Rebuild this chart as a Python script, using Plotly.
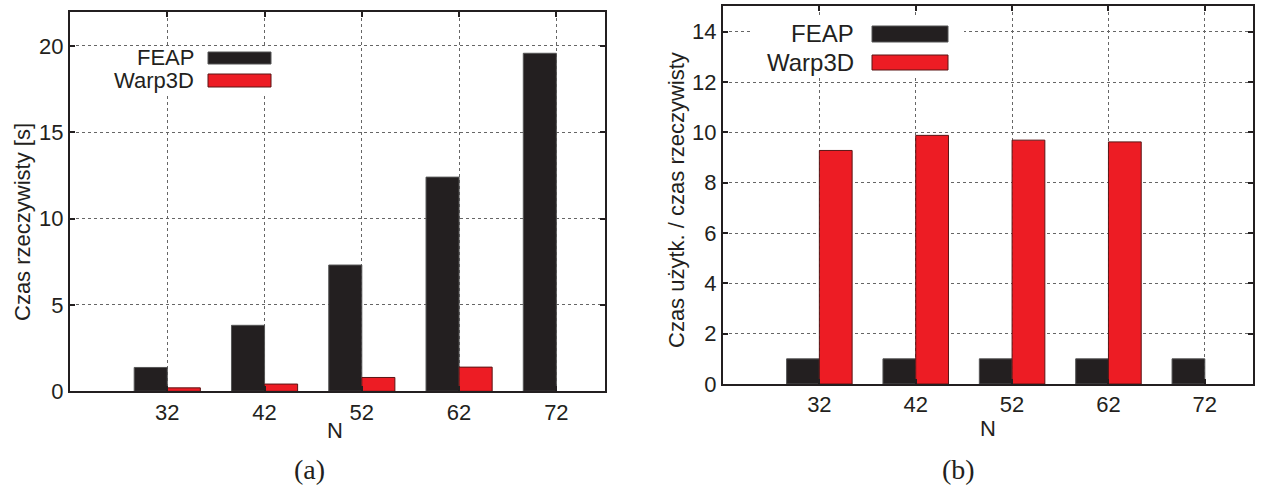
import plotly.graph_objects as go

# ---- data ----
N_values = [32, 42, 52, 62, 72]
feap_time = [1.38, 3.82, 7.31, 12.4, 19.57]
warp_time = [0.20, 0.42, 0.80, 1.40, None]
feap_ratio = [1.0, 1.0, 1.0, 1.0, 1.0]
warp_ratio = [9.28, 9.88, 9.69, 9.62, None]
series_names = ["FEAP", "Warp3D"]

W, H = 1261, 487
BLACK = "#231f20"
RED = "#ed1c24"
FONT = "Liberation Sans, Arial, sans-serif"
BW = 3.4


def px(x):
    return x / W


def py(y):
    return 1 - y / H


fig = go.Figure()

# left panel bars
fig.add_trace(go.Bar(x=N_values, y=feap_time, width=BW, offset=-BW, name=series_names[0],
                     marker=dict(color=BLACK, line=dict(color="#555", width=1)),
                     xaxis="x", yaxis="y", showlegend=False))
fig.add_trace(go.Bar(x=N_values, y=warp_time, width=BW, offset=0, name=series_names[1],
                     marker=dict(color=RED, line=dict(color="#5a1515", width=1)),
                     xaxis="x", yaxis="y", showlegend=False))
# right panel bars
fig.add_trace(go.Bar(x=N_values, y=feap_ratio, width=BW, offset=-BW, name=series_names[0],
                     marker=dict(color=BLACK, line=dict(color="#555", width=1)),
                     xaxis="x2", yaxis="y2", showlegend=False))
fig.add_trace(go.Bar(x=N_values, y=warp_ratio, width=BW, offset=0, name=series_names[1],
                     marker=dict(color=RED, line=dict(color="#5a1515", width=1)),
                     xaxis="x2", yaxis="y2", showlegend=False))

axis_common = dict(showline=True, linecolor=BLACK, linewidth=2, mirror="ticks",
                   ticks="inside", ticklen=5, tickwidth=2, tickcolor=BLACK,
                   showgrid=True, gridcolor="#666", griddash="dot", gridwidth=1,
                   zeroline=False, automargin=False,
                   tickfont=dict(family=FONT, size=22, color=BLACK))

fig.update_layout(
    width=W, height=H,
    margin=dict(l=0, r=0, t=0, b=0),
    paper_bgcolor="white", plot_bgcolor="white",
    barmode="overlay",
    xaxis=dict(domain=[px(70), px(605)], range=[22, 77], tickvals=N_values,
               ticktext=[str(v) for v in N_values], anchor="y", **axis_common),
    yaxis=dict(domain=[py(391.3), py(12)], range=[0, 21.96], tickvals=[0, 5, 10, 15, 20],
               anchor="x", **axis_common),
    xaxis2=dict(domain=[px(723), px(1253)], range=[22, 77], tickvals=N_values,
                ticktext=[str(v) for v in N_values], anchor="y2", **axis_common),
    yaxis2=dict(domain=[py(384), py(6)], range=[0, 15.02], tickvals=[0, 2, 4, 6, 8, 10, 12, 14],
                anchor="x2", **axis_common),
)

shapes = []
annotations = []


def rect(x0, y0, x1, y1, fill, line=None, lw=0):
    shapes.append(dict(type="rect", xref="paper", yref="paper",
                       x0=px(x0), x1=px(x1), y0=py(y1), y1=py(y0),
                       fillcolor=fill, line=dict(color=line or fill, width=lw),
                       layer="above"))


def text(x, y, s, size=22, xanchor="center", angle=0, family=FONT):
    annotations.append(dict(text=s, x=px(x), y=py(y), xref="paper", yref="paper",
                            showarrow=False, xanchor=xanchor, yanchor="middle",
                            textangle=angle,
                            font=dict(family=family, size=size, color=BLACK)))


# left legend
rect(100, 48, 282, 93, "white")
rect(208, 52, 271, 64, BLACK, "#555", 1)
rect(208, 74, 271, 87, RED, "#5a1515", 1)
text(196, 57.5, series_names[0], 22, "right")
text(196, 80, series_names[1], 22, "right")

# right legend
rect(752, 18, 964, 77, "white")
rect(872, 26, 948, 42, BLACK, "#555", 1)
rect(872, 55, 948, 70, RED, "#5a1515", 1)
text(856, 33.5, series_names[0], 24, "right")
text(856, 62, series_names[1], 24, "right")

# axis titles
text(22, 222, "Czas rzeczywisty [s]", 22, angle=-90)
text(335, 430, "N", 22)
text(676, 200, "Czas użytk. / czas rzeczywisty", 22, angle=-90)
text(988, 428, "N", 22)

# panel captions
text(309, 469, "(a)", 28, family="Liberation Serif, DejaVu Serif, serif")
text(958, 469, "(b)", 28, family="Liberation Serif, DejaVu Serif, serif")

fig.update_layout(shapes=shapes, annotations=annotations)

fig.write_html("out.html")
